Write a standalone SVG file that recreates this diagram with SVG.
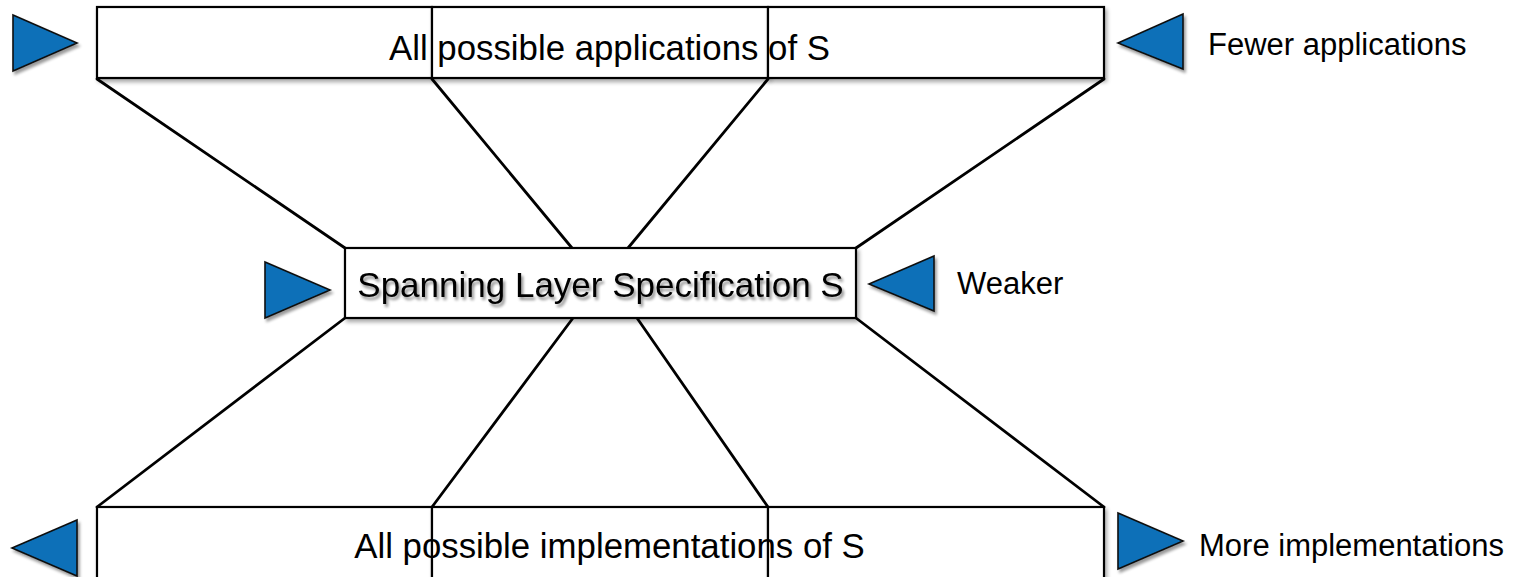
<svg xmlns="http://www.w3.org/2000/svg" width="1519" height="577" viewBox="0 0 1519 577">
  <style>
    .seg { fill: #ffffff; stroke: #000000; stroke-width: 2.2; filter: url(#boxShadow); }
    .wire { fill: none; stroke: #000000; stroke-width: 2.8; stroke-linecap: round; }
    .tri { fill: #1170b8; stroke: #111111; stroke-width: 1.6; stroke-linejoin: miter; filter: url(#triShadow); }
    .label { font-family: "Liberation Sans", Arial, sans-serif; fill: #000000; }
    .big { font-size: 34.8px; }
    .mid { font-size: 35px; filter: url(#textShadow); }
    .side { font-size: 31px; }
  </style>
  <defs>
    <filter id="boxShadow" x="-5%" y="-20%" width="110%" height="140%">
      <feGaussianBlur in="SourceAlpha" stdDeviation="2"/>
      <feOffset dx="2" dy="3" result="b"/>
      <feComponentTransfer><feFuncA type="linear" slope="0.35"/></feComponentTransfer>
      <feMerge><feMergeNode/><feMergeNode in="SourceGraphic"/></feMerge>
    </filter>
    <filter id="triShadow" x="-30%" y="-30%" width="160%" height="160%">
      <feGaussianBlur in="SourceAlpha" stdDeviation="1.8"/>
      <feOffset dx="2" dy="3"/>
      <feComponentTransfer><feFuncA type="linear" slope="0.4"/></feComponentTransfer>
      <feMerge><feMergeNode/><feMergeNode in="SourceGraphic"/></feMerge>
    </filter>
    <filter id="textShadow" x="-5%" y="-30%" width="110%" height="160%">
      <feGaussianBlur in="SourceAlpha" stdDeviation="1.5"/>
      <feOffset dx="1.5" dy="2.5"/>
      <feComponentTransfer><feFuncA type="linear" slope="0.45"/></feComponentTransfer>
      <feMerge><feMergeNode/><feMergeNode in="SourceGraphic"/></feMerge>
    </filter>
  </defs>

  <rect width="1519" height="577" fill="#ffffff"/>

  <!-- connectors between the three layers -->
  <g id="connectors">
    <line class="wire" x1="97" y1="79" x2="345" y2="248"/>
    <line class="wire" x1="432" y1="79" x2="572" y2="248"/>
    <line class="wire" x1="768" y1="79" x2="628" y2="248"/>
    <line class="wire" x1="1104" y1="79" x2="856" y2="248"/>
    <line class="wire" x1="345" y1="318" x2="97" y2="507"/>
    <line class="wire" x1="573" y1="318" x2="432" y2="507"/>
    <line class="wire" x1="637" y1="318" x2="768" y2="507"/>
    <line class="wire" x1="856" y1="318" x2="1104" y2="507"/>
  </g>

  <!-- top layer: applications -->
  <g id="applications">
    <rect class="seg" x="97" y="7" width="335" height="71"/>
    <rect class="seg" x="432" y="7" width="336" height="71"/>
    <rect class="seg" x="768" y="7" width="336" height="71"/>
    <text class="label big" x="609.5" y="60" text-anchor="middle">All possible applications of S</text>
  </g>

  <!-- middle layer: spanning layer -->
  <g id="spanning-layer">
    <rect class="seg" x="345" y="248" width="511" height="70"/>
    <text class="label mid" x="600.5" y="297" text-anchor="middle">Spanning Layer Specification S</text>
  </g>

  <!-- bottom layer: implementations -->
  <g id="implementations">
    <rect class="seg" x="97" y="507" width="335" height="80"/>
    <rect class="seg" x="432" y="507" width="336" height="80"/>
    <rect class="seg" x="768" y="507" width="336" height="80"/>
    <text class="label big" x="609.5" y="558" text-anchor="middle">All possible implementations of S</text>
  </g>

  <!-- direction markers -->
  <g id="marker-top-left"><polygon class="tri" points="13,15 13,71 77,43"/></g>
  <g id="marker-top-right"><polygon class="tri" points="1118,43 1183,14 1183,69"/></g>
  <g id="marker-mid-left"><polygon class="tri" points="265,262 265,318 330,290"/></g>
  <g id="marker-mid-right"><polygon class="tri" points="869,284 934,256 934,311"/></g>
  <g id="marker-bottom-left"><polygon class="tri" points="12,548 77,520 77,576"/></g>
  <g id="marker-bottom-right"><polygon class="tri" points="1118,513 1118,569 1183,541"/></g>

  <!-- side notes -->
  <g id="note-fewer"><text class="label side" x="1208" y="55">Fewer applications</text></g>
  <g id="note-weaker"><text class="label side" x="957" y="294">Weaker</text></g>
  <g id="note-more"><text class="label side" x="1199" y="556">More implementations</text></g>
</svg>
